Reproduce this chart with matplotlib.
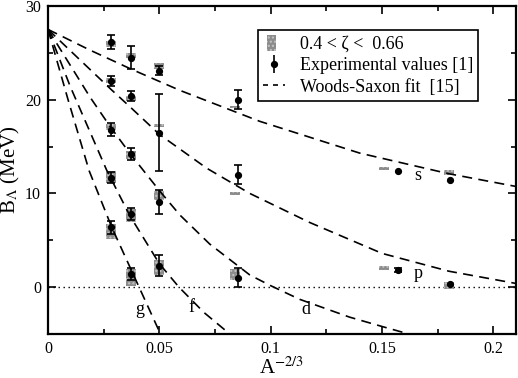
import matplotlib
matplotlib.use("Agg")
import matplotlib.pyplot as plt
from matplotlib.patches import Patch, Rectangle
from matplotlib.lines import Line2D
from matplotlib.legend_handler import HandlerPatch
import numpy as np

plt.rcParams['font.family'] = ['Liberation Serif', 'DejaVu Serif']
plt.rcParams['mathtext.fontset'] = 'stix'
plt.rcParams['hatch.linewidth'] = 1.0

# ---------------- data ----------------
# experimental values [1]
exp_x = [0.0283, 0.0283, 0.0283, 0.0283, 0.0283,
         0.0371, 0.0371, 0.0371, 0.0371, 0.0371,
         0.0499, 0.0499, 0.0499, 0.0499,
         0.0853, 0.0853, 0.0853,
         0.157, 0.157,
         0.1804, 0.1804]
exp_y = [26.2, 22.0, 16.8, 11.7, 6.4,
         24.5, 20.4, 14.2, 7.8, 1.4,
         23.1, 16.5, 9.1, 2.3,
         20.0, 12.0, 1.0,
         12.4, 1.85,
         11.4, 0.3]
exp_err = [0.75, 0.5, 0.7, 0.6, 0.7,
           1.2, 0.55, 0.6, 0.6, 0.6,
           0.5, 4.1, 1.3, 1.15,
           1.0, 1.0, 1.0,
           0.0, 0.2,
           0.0, 0.0]

# 0.4 < zeta < 0.66 bands
box_x = [0.0283, 0.0283, 0.0283, 0.0283, 0.0283,
         0.0371, 0.0371, 0.0371, 0.0371, 0.0371,
         0.0499, 0.0499, 0.0499, 0.0499,
         0.0839, 0.0839, 0.0839,
         0.151, 0.151,
         0.180, 0.180]
box_lo = [25.6, 21.8, 16.8, 11.1, 5.1,
          24.4, 19.85, 13.7, 6.9, 0.1,
          23.25, 17.1, 9.3, 1.3,
          19.1, 9.8, 0.8,
          12.55, 1.85,
          12.0, -0.2]
box_hi = [26.3, 22.35, 17.45, 12.4, 6.7,
          25.0, 20.35, 14.5, 8.3, 1.9,
          23.9, 17.45, 10.3, 2.9,
          19.35, 10.2, 1.9,
          12.8, 2.3,
          12.5, 0.5]

# Woods-Saxon fits [15]
ws_s_x = [0.0, 0.0188, 0.037, 0.0592, 0.095, 0.14, 0.18, 0.21]
ws_s_y = [27.5, 25.3, 23.3, 21.0, 17.7, 14.3, 12.1, 10.75]
ws_p_x = [0.0, 0.015, 0.0283, 0.037, 0.05, 0.0712, 0.0906, 0.1175, 0.15, 0.18, 0.21]
ws_p_y = [27.5, 24.1, 21.1, 19.2, 16.3, 12.7, 10.0, 6.9, 3.6, 1.7, 0.4]
ws_d_x = [0.0, 0.0188, 0.028, 0.037, 0.05, 0.0592, 0.0726, 0.0906, 0.0996, 0.113, 0.1354, 0.15, 0.162]
ws_d_y = [27.5, 20.3, 17.1, 14.2, 10.3, 7.7, 4.6, 1.3, 0.2, -1.3, -3.2, -4.2, -5.0]
ws_f_x = [0.0, 0.01, 0.0263, 0.0368, 0.05, 0.0588, 0.07, 0.0816]
ws_f_y = [27.5, 21.4, 12.5, 7.6, 2.5, 0.0, -2.7, -5.0]
ws_g_x = [0.0, 0.009, 0.0185, 0.0286, 0.0405, 0.0505]
ws_g_y = [27.5, 20.0, 12.4, 6.4, 0.2, -5.0]

curve_labels = ['s', 'p', 'd', 'f', 'g']
label_x = [0.1659, 0.1664, 0.1157, 0.0644, 0.0413]
label_y = [11.9, 1.5, -2.4, -2.2, -2.4]

x_ticks = [0, 0.05, 0.1, 0.15, 0.2]
x_ticklabels = ['0', '0.05', '0.1', '0.15', '0.2']
y_ticks = [0, 10, 20, 30]
y_ticklabels = ['0', '10', '20', '30']

# ---------------- figure ----------------
fig = plt.figure(figsize=(5.18, 3.78), dpi=100)
ax = fig.add_axes([0.0927, 0.1164, 0.9029, 0.8677])

BOX_FC = '#8c8c8c'
BOX_HC = '#c4c4c4'

# bands
ax.bar(box_x, np.array(box_hi) - np.array(box_lo), bottom=box_lo, width=0.0045,
       color=BOX_FC, edgecolor=BOX_HC, hatch='....', linewidth=0, zorder=2)

# zero line
ax.axhline(0, color='black', lw=1.0, ls=(0, (1, 2.6)), zorder=1)

# fits
for cx, cy in [(ws_s_x, ws_s_y), (ws_p_x, ws_p_y), (ws_d_x, ws_d_y),
               (ws_f_x, ws_f_y), (ws_g_x, ws_g_y)]:
    ln, = ax.plot(cx, cy, color='black', lw=1.2, zorder=3)
    ln.set_dashes([6, 3.8])

# experimental values
ex = np.array(exp_x); ey = np.array(exp_y); ee = np.array(exp_err)
m = ee > 0
ax.errorbar(ex[m], ey[m], yerr=ee[m], fmt='o', color='black', ms=4.2,
            elinewidth=1.2, capsize=2.8, capthick=1.2, zorder=4)
ax.plot(ex[~m], ey[~m], 'o', color='black', ms=4.2, zorder=4)

for t, lx, ly in zip(curve_labels, label_x, label_y):
    ax.text(lx, ly, t, fontsize=13, ha='center', va='center')

ax.set_xlim(0, 0.21)
ax.set_ylim(-5, 30)
ax.set_xticks(x_ticks)
ax.set_xticklabels(x_ticklabels)
ax.set_yticks(y_ticks)
ax.set_yticklabels(y_ticklabels)
ax.set_xticks(np.arange(0.025, 0.21, 0.05), minor=True)
ax.set_yticks([-5, 5, 15, 25], minor=True)
ax.tick_params(which='both', direction='in', top=True, right=True,
               labelsize=11.5, width=1.2)
ax.tick_params(which='major', length=6, pad=5)
ax.tick_params(which='minor', length=3.5)
for sp in ax.spines.values():
    sp.set_linewidth(1.6)

ax.set_xlabel(r'A$^{-2/3}$', fontsize=15, labelpad=0)
ax.set_ylabel(r'B$_{\Lambda}$ (MeV)', fontsize=15, labelpad=2)


def narrow_box(legend, orig_handle, xdescent, ydescent, width, height, fontsize):
    w = 6.5
    h = height * 1.05
    return Rectangle((-xdescent + width / 2 - w / 2 - 2, -ydescent + (height - h) / 2),
                     w, h)


# legend
h_box = Patch(facecolor=BOX_FC, edgecolor=BOX_HC, hatch='....', linewidth=0)
h_err = ax.errorbar([], [], yerr=[], fmt='o', color='black', ms=4.2,
                    elinewidth=1.2, capsize=2.8, capthick=1.2)
h_ws = Line2D([], [], color='black', lw=1.2, dashes=[3, 3])
leg = ax.legend([h_box, h_err, h_ws],
                ['0.4 < ζ <  0.66', 'Experimental values [1]', 'Woods-Saxon fit  [15]'],
                loc='upper left', bbox_to_anchor=(0.449, 0.927), borderaxespad=0,
                fontsize=13, fancybox=False, framealpha=1, edgecolor='black',
                handlelength=1.2, handletextpad=0.8, labelspacing=0.2,
                borderpad=0.3, handleheight=0.9,
                handler_map={Patch: HandlerPatch(patch_func=narrow_box)})
leg.get_frame().set_linewidth(1.2)

fig.savefig('out.png', dpi=100)
